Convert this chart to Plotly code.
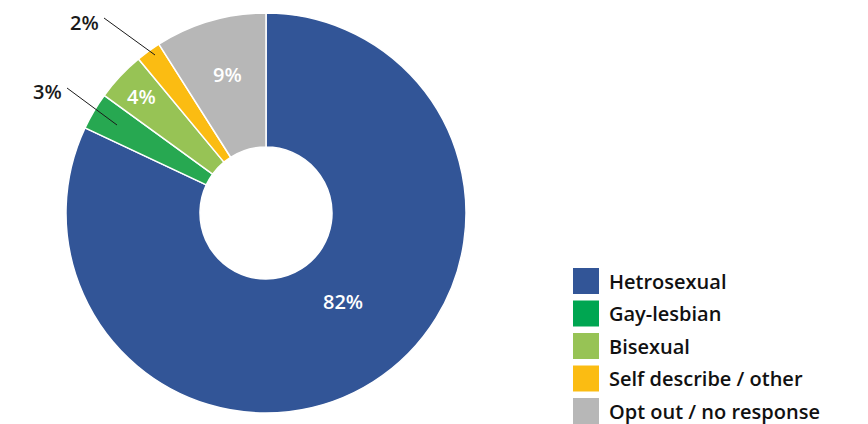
import plotly.graph_objects as go

# Survey responses: sexual orientation
categories = ["Hetrosexual", "Gay-lesbian", "Bisexual", "Self describe / other", "Opt out / no response"]
values = [82, 3, 4, 2, 9]
colors = ["#325597", "#27A851", "#97C355", "#FBBC12", "#B7B7B7"]
legend_colors = ["#325597", "#00A651", "#97C355", "#FBBC12", "#B7B7B7"]

W, H = 868, 424
FONT = "Open Sans"


def px(x):
    return x / W


def py(y):
    return 1 - y / H


# donut placement (pixels): centre (266, 213), outer radius 200
cx, cy, r = 266, 213, 200

fig = go.Figure(
    go.Pie(
        labels=categories,
        values=values,
        sort=False,
        direction="clockwise",
        rotation=0,
        hole=0.33,
        textinfo="none",
        hoverinfo="label+percent",
        marker=dict(colors=colors, line=dict(color="white", width=1.5)),
        domain=dict(x=[px(cx - r), px(cx + r)], y=[py(cy + r), py(cy - r)]),
        showlegend=False,
    )
)

annotations = []
shapes = []

# percentage labels: (pixel x, pixel y, colour) for each slice
label_pos = [
    (343, 301, "white"),
    (47, 91, "#1a1a1a"),
    (141, 97, "white"),
    (84, 22, "#1a1a1a"),
    (227, 74, "white"),
]
for v, (x, y, c) in zip(values, label_pos):
    annotations.append(dict(
        x=px(x), y=py(y), xref="paper", yref="paper", showarrow=False,
        text=f"{v}%", xanchor="center", yanchor="middle",
        font=dict(family=FONT, size=20, color=c, weight=600),
    ))

# leader lines for the two small outside labels
for (x0, y0, x1, y1) in [(67, 88, 117, 125), (104, 18, 155, 55)]:
    shapes.append(dict(
        type="line", xref="paper", yref="paper",
        x0=px(x0), y0=py(y0), x1=px(x1), y1=py(y1),
        line=dict(color="#1a1a1a", width=1),
    ))

# legend: coloured squares with labels
lx, ly0, step, sq = 573, 268, 32.5, 26
for i, (name, col) in enumerate(zip(categories, legend_colors)):
    top = ly0 + i * step
    shapes.append(dict(
        type="rect", xref="paper", yref="paper",
        x0=px(lx), x1=px(lx + sq), y0=py(top + sq), y1=py(top),
        fillcolor=col, line=dict(width=0),
    ))
    annotations.append(dict(
        x=px(607), y=py(top + sq / 2), xref="paper", yref="paper",
        showarrow=False, text=name, xanchor="left", yanchor="middle",
        font=dict(family=FONT, size=20, color="#111111", weight=600),
    ))

fig.update_layout(
    width=W, height=H,
    margin=dict(l=0, r=0, t=0, b=0),
    paper_bgcolor="white", plot_bgcolor="white",
    annotations=annotations, shapes=shapes,
)

fig.write_html("out.html")
